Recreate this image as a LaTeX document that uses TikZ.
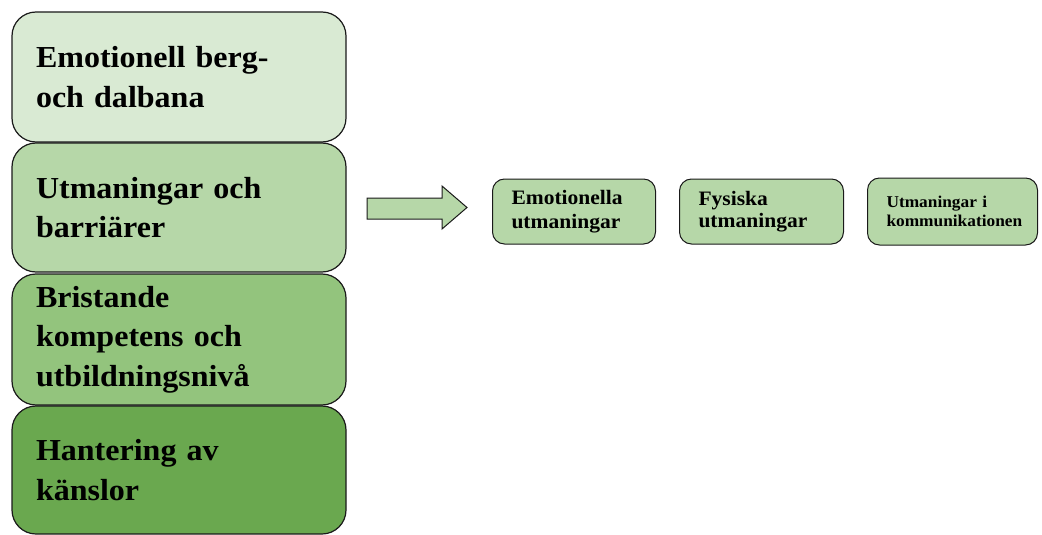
\documentclass[tikz,border=0pt]{standalone}
\usepackage{fontspec}
\setmainfont[FakeStretch=1.05]{Liberation Serif}
\definecolor{gA}{HTML}{D9EAD3}
\definecolor{gB}{HTML}{B6D7A8}
\definecolor{gC}{HTML}{93C47D}
\definecolor{gD}{HTML}{6AA84F}
\definecolor{edge}{HTML}{1A1A1A}
\tikzset{
  bigbox/.style={draw=edge, line width=1.2pt, rounded corners=24pt, minimum width=334pt,
    text width=286pt, align=left, inner xsep=24pt, inner ysep=0pt,
    font=\bfseries\fontsize{30.5}{39.5}\selectfont},
  smallbox/.style={draw=edge, line width=1pt, rounded corners=12pt, fill=gB,
    minimum height=65pt, align=left, inner ysep=0pt, anchor=west},
  blockarrow/.style={draw=edge, line width=1pt, fill=gB, line join=miter}
}
\begin{document}
\begin{tikzpicture}[x=1pt,y=-1pt]
\useasboundingbox (0,0) rectangle (1042,535);
\node[bigbox, fill=gA, minimum height=130pt] (b1) at (179,77) {Emotionell berg-\\och dalbana};
\node[bigbox, fill=gB, minimum height=129pt] (b2) at (179,207.5) {Utmaningar och\\barriärer};
\node[bigbox, fill=gC, minimum height=131pt] (b3) at (179,339.5) {Bristande\\kompetens och\\utbildningsnivå};
\node[bigbox, fill=gD, minimum height=128pt] (b4) at (179,470) {Hantering av\\känslor};
\draw[blockarrow] (367,198) -- (442,198) -- (442,186) -- (467,207.5) -- (442,229) -- (442,219) -- (367,219) -- cycle;
\node[smallbox, minimum width=163pt, text width=125pt, inner xsep=19pt,
  font=\bfseries\fontsize{20.5}{24}\selectfont] (s1) at (492,211.5) {Emotionella\\utmaningar};
\node[smallbox, minimum width=164pt, text width=126pt, inner xsep=19pt,
  font=\bfseries\fontsize{20.5}{22.5}\selectfont] (s2) at (679,211.5) {Fysiska\\utmaningar};
\node[smallbox, minimum width=170pt, minimum height=67pt, text width=132pt, inner xsep=19pt,
  font=\bfseries\fontsize{16.5}{18.5}\selectfont] (s3) at (867,211.5) {Utmaningar i\\kommunikationen};
\end{tikzpicture}
\end{document}
